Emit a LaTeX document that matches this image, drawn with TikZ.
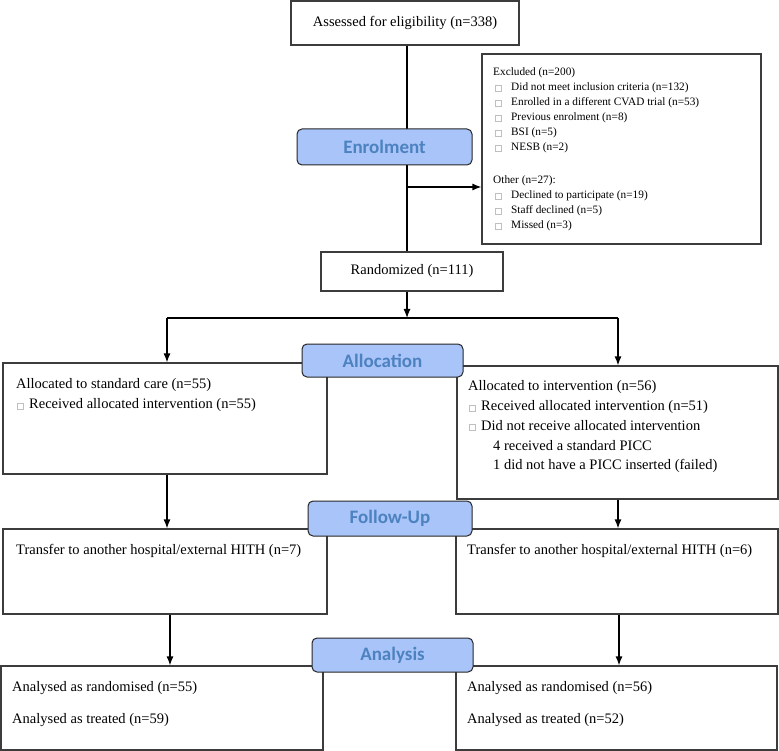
\documentclass[tikz,border=0pt]{standalone}
\usepackage{fontspec}
\setmainfont{Liberation Serif}
\newfontfamily\phasefont{Carlito}
\usetikzlibrary{arrows.meta}
\usetikzlibrary{positioning}

\definecolor{phasefill}{RGB}{169,196,248}
\definecolor{phasetext}{RGB}{77,130,192}
\definecolor{boxline}{RGB}{60,60,60}

\newcommand{\mainfs}{\fontsize{14.5}{19.8}\selectfont}
\newcommand{\exfs}{\fontsize{11.3}{15}\selectfont}
\newcommand{\sqbox}{{\color{black!25}\setlength{\fboxsep}{0pt}\setlength{\fboxrule}{0.5pt}\fbox{\rule{0pt}{5.5pt}\hspace{5.5pt}}}}
\newcommand{\exitem}{\makebox[18pt][l]{\hspace{2pt}\sqbox}}
\newcommand{\alitem}{\makebox[13pt][l]{\hspace{1pt}\sqbox}}

\tikzset{
  flowbox/.style={draw=boxline, line width=1.2pt, inner sep=0pt},
  phase/.style={draw=black!85, line width=1pt, fill=phasefill, rounded corners=5pt,
    text=phasetext, font=\fontsize{19}{22}\selectfont\phasefont\bfseries, inner sep=0pt},
  boxtext/.style={anchor=north west, inner sep=0pt, align=left},
  arr/.style={-{Latex[length=9pt,width=7pt]}, line width=1.2pt},
}

\begin{document}
\begin{tikzpicture}[x=1pt, y=-1pt]
  \useasboundingbox (0,0) rectangle (779,751);

  % boxes of the flow
  \node[flowbox, minimum width=228pt, minimum height=44pt, font=\mainfs] (assess) at (405,23) {Assessed for eligibility (n=338)};
  \node[flowbox, minimum width=279pt, minimum height=190pt] (excl) at (621.5,149) {};
  \node[flowbox, minimum width=182pt, minimum height=39pt, font=\mainfs] (rand) at (412,271.5) {Randomized (n=111)};
  \node[flowbox, minimum width=324pt, minimum height=111pt] (allocL) at (165,418.5) {};
  \node[flowbox, minimum width=321pt, minimum height=133pt] (allocR) at (617.5,432.5) {};
  \node[flowbox, minimum width=324pt, minimum height=85pt] (followL) at (165,571.5) {};
  \node[flowbox, minimum width=322pt, minimum height=85pt] (followR) at (617,571.5) {};
  \node[flowbox, minimum width=322pt, minimum height=84pt] (anaL) at (162,708) {};
  \node[flowbox, minimum width=321pt, minimum height=84pt] (anaR) at (616.5,708) {};

  % texts inside the boxes
  \node[boxtext, font=\exfs] (excltext) at (493,67.7) {Excluded (n=200)\\
    \exitem Did not meet inclusion criteria (n=132)\\
    \exitem Enrolled in a different CVAD trial (n=53)\\
    \exitem Previous enrolment (n=8)\\
    \exitem BSI (n=5)\\
    \exitem NESB (n=2)\\[18pt]
    Other (n=27):\\
    \exitem Declined to participate (n=19)\\
    \exitem Staff declined (n=5)\\
    \exitem Missed (n=3)};
  \node[boxtext, font=\mainfs] (allocLtext) at (16,378.5) {Allocated to standard care (n=55)\\
    \alitem Received allocated intervention (n=55)};
  \node[boxtext, font=\mainfs] (allocRtext) at (468,380.5) {Allocated to intervention (n=56)\\
    \alitem Received allocated intervention (n=51)\\
    \alitem Did not receive allocated intervention\\
    \hspace*{25pt}4 received a standard PICC\\
    \hspace*{25pt}1 did not have a PICC inserted (failed)};
  \node[anchor=base west, inner sep=0pt, font=\mainfs] (followLtext) at (16,554.5) {Transfer to another hospital/external HITH (n=7)};
  \node[anchor=base west, inner sep=0pt, font=\mainfs] (followRtext) at (467,554.5) {Transfer to another hospital/external HITH (n=6)};
  \node[boxtext, font=\fontsize{14.5}{32}\selectfont] (anaLtext) at (12,681.5) {Analysed as randomised (n=55)\\ Analysed as treated (n=59)};
  \node[boxtext, font=\fontsize{14.5}{32}\selectfont] (anaRtext) at (467,681.5) {Analysed as randomised (n=56)\\ Analysed as treated (n=52)};

  % connectors
  \coordinate (split) at (407,318);
  \coordinate (exbranch) at (407,187);
  \coordinate (leftdrop) at (167,318);
  \coordinate (rightdrop) at (618,318);
  \coordinate (colL) at (170,0);
  \coordinate (colR) at (619,0);
  \draw[line width=1.2pt] (assess.south -| split) -- (rand.north -| split);
  \draw[arr] (exbranch) -- (exbranch -| excl.west);
  \draw[arr] (rand.south -| split) -- (split);
  \draw[line width=1.2pt] (leftdrop) -- (rightdrop);
  \draw[arr] (leftdrop) -- (leftdrop |- allocL.north);
  \draw[arr] (rightdrop) -- (rightdrop |- allocR.north);
  \draw[arr] (allocL.south -| leftdrop) -- (followL.north -| leftdrop);
  \draw[arr] (allocR.south -| rightdrop) -- (followR.north -| rightdrop);
  \draw[arr] (followL.south -| colL) -- (anaL.north -| colL);
  \draw[arr] (followR.south -| colR) -- (anaR.north -| colR);

  % phase labels on top
  \node[phase, minimum width=175pt, minimum height=36pt] (enrol) at (384.5,147) {Enrolment};
  \node[phase, minimum width=161pt, minimum height=33pt] (alloc) at (382.5,360.5) {Allocation};
  \node[phase, minimum width=164pt, minimum height=35pt] (follow) at (390,518.5) {Follow-Up};
  \node[phase, minimum width=161pt, minimum height=34pt] (analysis) at (392.5,655) {Analysis};
\end{tikzpicture}
\end{document}
